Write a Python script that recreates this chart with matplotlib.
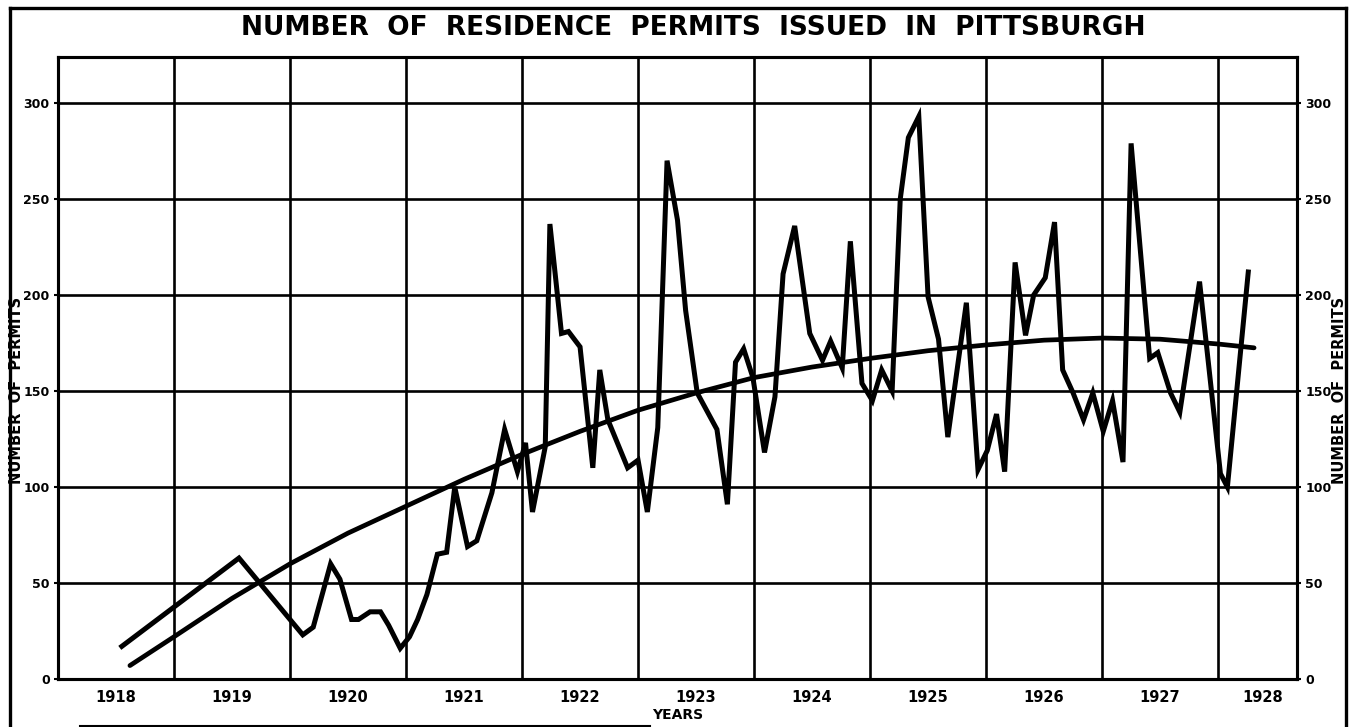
import numpy as np
import matplotlib.pyplot as plt
from matplotlib.lines import Line2D

# monthly permit counts, x in decimal years
permit_year = [1918.55, 1919.56, 1920.11, 1920.20, 1920.35, 1920.43, 1920.53, 1920.59,
               1920.69, 1920.78, 1920.85, 1920.95, 1921.03, 1921.10, 1921.18, 1921.27,
               1921.35, 1921.42, 1921.53, 1921.61, 1921.74, 1921.85, 1921.96, 1922.03,
               1922.09, 1922.20, 1922.24, 1922.34, 1922.40, 1922.50, 1922.61, 1922.67,
               1922.74, 1922.91, 1923.00, 1923.08, 1923.17, 1923.25, 1923.34, 1923.41,
               1923.51, 1923.68, 1923.77, 1923.84, 1923.91, 1923.99, 1924.09, 1924.18,
               1924.25, 1924.35, 1924.48, 1924.59, 1924.66, 1924.76, 1924.83, 1924.93,
               1925.02, 1925.10, 1925.19, 1925.26, 1925.33, 1925.42, 1925.50, 1925.59,
               1925.67, 1925.83, 1925.93, 1926.01, 1926.09, 1926.16, 1926.25, 1926.34,
               1926.41, 1926.51, 1926.59, 1926.66, 1926.75, 1926.84, 1926.92, 1927.01,
               1927.09, 1927.18, 1927.25, 1927.41, 1927.48, 1927.59, 1927.67, 1927.76,
               1927.84, 1928.02, 1928.08, 1928.26]
permits = [17, 63, 23, 27, 60, 52, 31, 31,
           35, 35, 28, 16, 22, 31, 44, 65,
           66, 100, 69, 72, 97, 130, 108, 123,
           87, 121, 237, 180, 181, 173, 110, 161,
           135, 110, 114, 87, 131, 270, 239, 192,
           149, 130, 91, 165, 172, 157, 118, 147,
           211, 236, 180, 166, 176, 162, 228, 154,
           145, 161, 150, 250, 282, 293, 199, 177,
           126, 196, 109, 119, 138, 108, 217, 179,
           200, 209, 238, 161, 149, 135, 149, 129,
           145, 113, 279, 167, 170, 149, 139, 175,
           207, 107, 100, 212]

# trend curve
trend_year = [1918.62, 1919.0, 1919.5, 1920.0, 1920.5, 1921.0, 1921.5, 1922.0, 1922.5,
              1923.0, 1923.5, 1924.0, 1924.5, 1925.0, 1925.5, 1926.0, 1926.5, 1927.0,
              1927.5, 1928.0, 1928.31]
trend = [7, 22, 42, 60, 76, 90, 104, 117, 129,
         140, 149, 157, 162.5, 167, 171, 174, 176.5, 177.6,
         177, 174.5, 172.5]

years = ["1918", "1919", "1920", "1921", "1922", "1923", "1924", "1925", "1926", "1927", "1928"]
y_ticks = [0, 50, 100, 150, 200, 250, 300]

W, H = 1351, 727
fig = plt.figure(figsize=(W/100, H/100), dpi=100)
ax = fig.add_axes([58/W, 48/H, (1297-58)/W, (679-57)/H])

ax.plot(permit_year, permits, color="black", lw=3.6, solid_joinstyle="miter", zorder=3)
ax.plot(trend_year, trend, color="black", lw=3.4, solid_capstyle="round", zorder=3)

ax.set_xlim(1918.0, 1928.68)
ax.set_ylim(0, 324)

# grid: year boundaries + every 50 permits
ax.set_xticks(range(1919, 1929))
ax.set_xticklabels([])
ax.tick_params(axis="x", which="major", length=0)
ax.set_xticks([int(y) + 0.5 for y in years[:-1]] + [1928.38], minor=True)
ax.set_xticklabels(years, minor=True, fontsize=10.5, fontweight="bold")
ax.tick_params(axis="x", which="minor", length=0, pad=8)
ax.grid(True, which="major", color="black", lw=1.9)

ax.set_yticks(y_ticks)
ax.set_yticklabels([str(v) for v in y_ticks], fontsize=9, fontweight="bold")
ax.tick_params(axis="y", length=3, width=1.5, pad=3)

ax2 = ax.twinx()
ax2.set_ylim(ax.get_ylim())
ax2.set_yticks(y_ticks)
ax2.set_yticklabels([str(v) for v in y_ticks], fontsize=9, fontweight="bold")
ax2.tick_params(axis="y", length=3, width=1.5, pad=3)

for a in (ax, ax2):
    for s in a.spines.values():
        s.set_linewidth(2.2)

ax.set_xlabel("YEARS", fontsize=10, fontweight="bold", labelpad=2)

fig.text(17/W, 1-390/H, "NUMBER  OF  PERMITS", rotation=90, ha="center", va="center",
         fontsize=10.5, fontweight="bold")
fig.text(1339/W, 1-390/H, "NUMBER  OF  PERMITS", rotation=90, ha="center", va="center",
         fontsize=10.5, fontweight="bold")

fig.text(693/W, 1-28/H, "NUMBER  OF  RESIDENCE  PERMITS  ISSUED  IN  PITTSBURGH",
         ha="center", va="center", fontsize=19, fontweight="bold")

# outer frame of the drawing
fig.add_artist(Line2D([10/W, 10/W], [0, 1-8/H], color="black", lw=2.4))
fig.add_artist(Line2D([10/W, 1346/W], [1-8/H, 1-8/H], color="black", lw=2.4))
fig.add_artist(Line2D([1346/W, 1346/W], [0, 1-8/H], color="black", lw=2.4))
fig.add_artist(Line2D([80/W, 650/W], [1-726/H, 1-726/H], color="black", lw=1.5))

plt.savefig("out.png", dpi=100)
